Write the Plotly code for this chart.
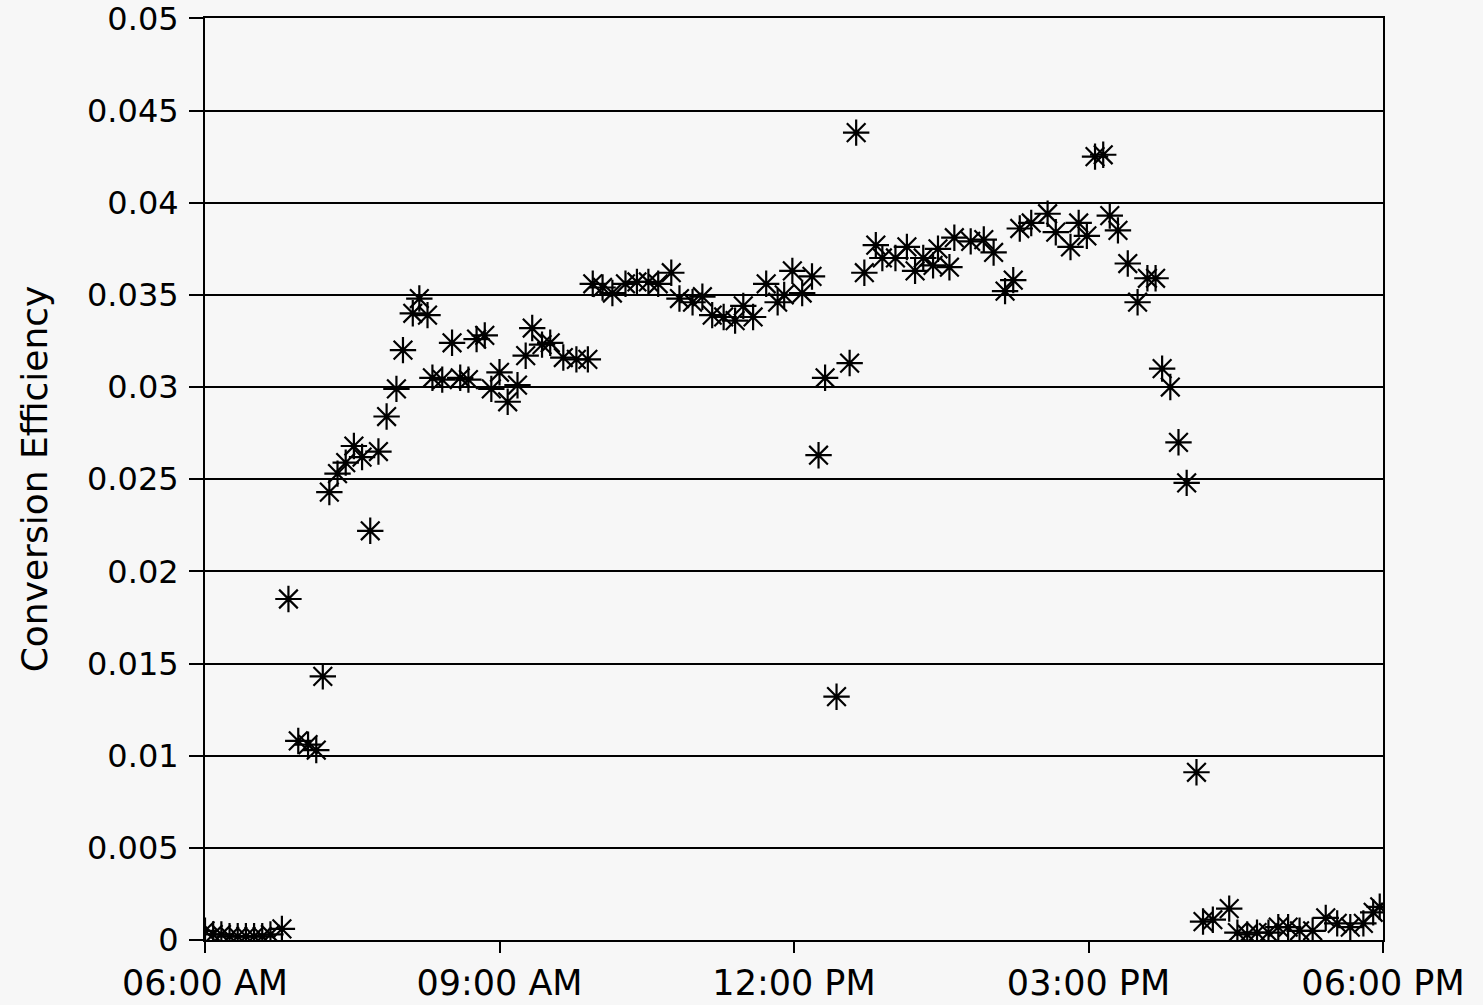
import plotly.graph_objects as go

times = ["06:00", "06:05", "06:10", "06:15", "06:20", "06:25", "06:30", "06:35", "06:40", "06:47",
         "06:51", "06:57", "07:03", "07:08", "07:12", "07:16", "07:21", "07:26", "07:31", "07:36",
         "07:41", "07:46", "07:51", "07:57", "08:01", "08:07", "08:11", "08:16", "08:19", "08:25",
         "08:31", "08:36", "08:41", "08:46", "08:51", "08:55", "09:00", "09:05", "09:11", "09:16",
         "09:20", "09:26", "09:31", "09:39", "09:47", "09:54", "09:57", "10:03", "10:09", "10:17",
         "10:24", "10:31", "10:37", "10:45", "10:50", "10:58", "11:04", "11:10", "11:17", "11:24",
         "11:29", "11:35", "11:43", "11:50", "11:54", "11:59", "12:05", "12:11", "12:15", "12:19",
         "12:26", "12:34", "12:38", "12:43", "12:50", "12:54", "13:02", "13:09", "13:14", "13:19",
         "13:25", "13:28", "13:35", "13:38", "13:48", "13:56", "14:02", "14:09", "14:14", "14:18",
         "14:25", "14:35", "14:40", "14:49", "14:54", "14:59", "15:04", "15:09", "15:13", "15:18",
         "15:24", "15:30", "15:36", "15:41", "15:45", "15:50", "15:55", "16:00", "16:06", "16:10",
         "16:16", "16:26", "16:31", "16:37", "16:43", "16:50", "16:56", "17:02", "17:09", "17:17",
         "17:25", "17:32", "17:40", "17:48", "17:54", "17:58"]

efficiency = [0.0005, 0.0003, 0.0003, 0.0002, 0.0002, 0.0002, 0.0002, 0.0002, 0.0003, 0.0006,
              0.0185, 0.0108, 0.0106, 0.0103, 0.0143, 0.0243, 0.0253, 0.0259, 0.0268, 0.0262,
              0.0222, 0.0265, 0.0284, 0.0299, 0.0320, 0.0340, 0.0348, 0.0339, 0.0305, 0.0304,
              0.0324, 0.0305, 0.0304, 0.0326, 0.0328, 0.0299, 0.0308, 0.0292, 0.0301, 0.0317,
              0.0332, 0.0323, 0.0324, 0.0316, 0.0315, 0.0315, 0.0356, 0.0354, 0.0351, 0.0356,
              0.0357, 0.0357, 0.0356, 0.0362, 0.0348, 0.0346, 0.0349, 0.0339, 0.0338, 0.0336,
              0.0344, 0.0338, 0.0356, 0.0346, 0.0350, 0.0363, 0.0351, 0.0360, 0.0263, 0.0305,
              0.0132, 0.0313, 0.0438, 0.0362, 0.0377, 0.0370, 0.0370, 0.0376, 0.0363, 0.0370,
              0.0366, 0.0375, 0.0365, 0.0381, 0.0379, 0.0380, 0.0373, 0.0352, 0.0358, 0.0386,
              0.0389, 0.0394, 0.0384, 0.0376, 0.0389, 0.0382, 0.0425, 0.0426, 0.0393, 0.0385,
              0.0367, 0.0346, 0.0359, 0.0359, 0.0310, 0.0300, 0.0270, 0.0248, 0.0091, 0.0010,
              0.0011, 0.0017, 0.0004, 0.0003, 0.0004, 0.0004, 0.0007, 0.0007, 0.0005, 0.0005,
              0.0012, 0.0009, 0.0007, 0.0009, 0.0015, 0.0018]

x_ticks = ["06:00", "09:00", "12:00", "15:00", "18:00"]
x_tick_labels = ["06:00 AM", "09:00 AM", "12:00 PM", "03:00 PM", "06:00 PM"]
y_ticks = [0, 0.005, 0.01, 0.015, 0.02, 0.025, 0.03, 0.035, 0.04, 0.045, 0.05]
y_tick_labels = ["0", "0.005", "0.01", "0.015", "0.02", "0.025", "0.03", "0.035", "0.04", "0.045", "0.05"]

day = "2000-01-01 "
xs = [day + t for t in times]

fig = go.Figure()
fig.add_trace(go.Scatter(
    x=xs, y=efficiency, mode="markers",
    marker=dict(symbol="asterisk-open", size=22, color="black",
                line=dict(color="black", width=2.2)),
    showlegend=False,
))

fig.update_layout(
    width=1483, height=1005,
    margin=dict(l=205, r=100, t=18, b=65),
    paper_bgcolor="#f7f7f7", plot_bgcolor="#f7f7f7",
    font=dict(family="DejaVu Sans", color="black"),
)
fig.update_xaxes(
    type="date",
    range=[day + "06:00", day + "18:00"],
    tickvals=[day + t for t in x_ticks], ticktext=x_tick_labels,
    tickfont=dict(size=35, family="DejaVu Sans", color="black"),
    ticks="outside", ticklen=11, tickwidth=2, tickcolor="black",
    showgrid=False, zeroline=False, automargin=False,
    showline=True, linecolor="black", linewidth=2, mirror=True,
)
fig.update_yaxes(
    range=[0, 0.05002],
    tickvals=y_ticks, ticktext=y_tick_labels,
    tickfont=dict(size=32, family="DejaVu Sans", color="black"),
    ticks="outside", ticklen=14, tickwidth=2, tickcolor="black",
    ticklabelstandoff=4, automargin=False, ticklabeloverflow="allow",
    showgrid=True, gridcolor="black", gridwidth=2, zeroline=False,
    showline=True, linecolor="black", linewidth=2, mirror=True,
    title=dict(text="Conversion Efficiency", font=dict(size=36, family="DejaVu Sans", color="black"), standoff=28),
)

fig.write_html("out.html")
